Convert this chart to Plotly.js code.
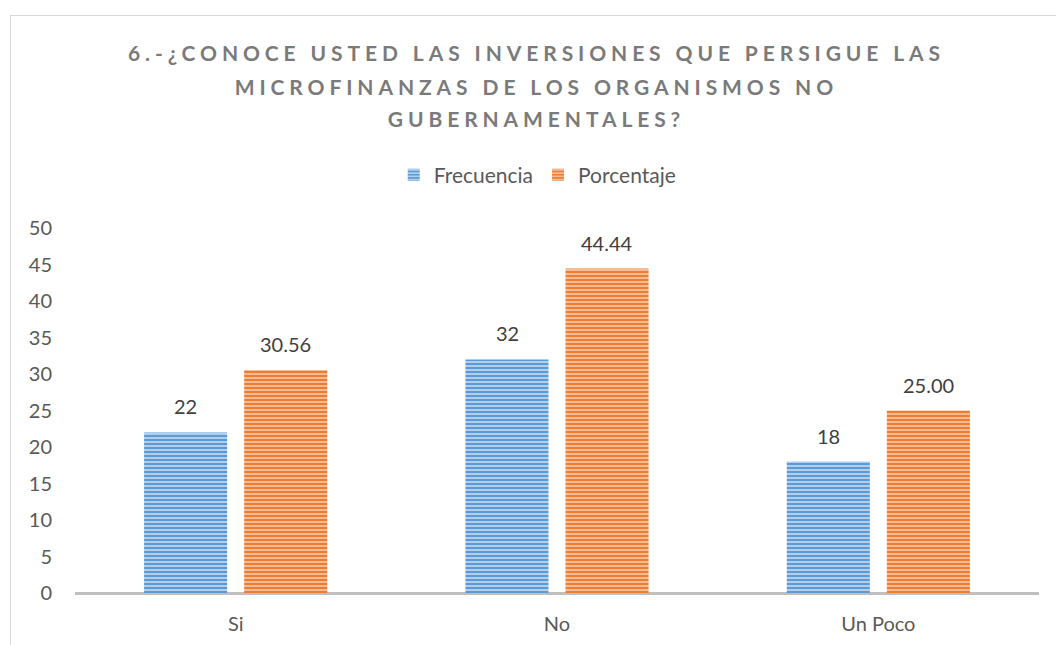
<!DOCTYPE html>
<html>
<head>
<meta charset="utf-8">
<script src="https://cdn.plot.ly/plotly-3.0.1.min.js"></script>
<style>
  body { margin: 0; background: #fff; }
  #chart { position: absolute; left: 0; top: 0; width: 1056px; height: 645px; }
  #frame { position: absolute; left: 10px; top: 15px; width: 1100px; height: 700px; border: 1px solid #d9d9d9; pointer-events: none; }
  .annotation[data-index="0"] text, .annotation[data-index="1"] text, .annotation[data-index="2"] text { letter-spacing: 4.9px; }
</style>
</head>
<body>
<div id="chart"></div>
<div id="frame"></div>
<script>
const titleLines = ["6.-¿CONOCE USTED LAS INVERSIONES QUE PERSIGUE LAS", "MICROFINANZAS DE LOS ORGANISMOS NO", "GUBERNAMENTALES?"];
const categories = ["Si", "No", "Un Poco"];
const frecuencia = [22, 32, 18];
const porcentaje = [30.56, 44.44, 25.00];
const frecuenciaLabels = ["22", "32", "18"];
const porcentajeLabels = ["30.56", "44.44", "25.00"];
const yTicks = [0, 5, 10, 15, 20, 25, 30, 35, 40, 45, 50];

const font = "Lato, 'Open Sans', sans-serif";

const traces = [
  {
    type: "bar", name: "Frecuencia", x: categories, y: frecuencia,
    marker: { color: "#5B9BD5", pattern: { shape: "-", fgcolor: "#C9DCF0", bgcolor: "#5B9BD5", size: 4, solidity: 0.4 } },
    hoverinfo: "skip"
  },
  {
    type: "bar", name: "Porcentaje", x: categories, y: porcentaje,
    marker: { color: "#ED7D31", pattern: { shape: "-", fgcolor: "#F8CBAD", bgcolor: "#ED7D31", size: 4, solidity: 0.4 } },
    hoverinfo: "skip"
  }
];

const titleY = [1.482, 1.389, 1.301];
const annotations = titleLines.map((t, i) => ({
  xref: "paper", yref: "paper", x: 0.479, y: titleY[i],
  text: "<b>" + t + "</b>", showarrow: false, xanchor: "center", yanchor: "middle",
  font: { size: 21, color: "#7a7a7a", family: font }
}));
categories.forEach((c, i) => {
  annotations.push({ x: c, y: frecuencia[i], text: frecuenciaLabels[i], showarrow: false, xshift: -50, yanchor: "bottom", yshift: 12, font: { size: 20, color: "#404040", family: font } });
  annotations.push({ x: c, y: porcentaje[i], text: porcentajeLabels[i], showarrow: false, xshift: 50, yanchor: "bottom", yshift: 12, font: { size: 20, color: "#404040", family: font } });
});

const layout = {
  width: 1056, height: 645,
  margin: { l: 75, r: 17, t: 228, b: 52 },
  paper_bgcolor: "#ffffff", plot_bgcolor: "#ffffff",
  font: { family: font, color: "#595959", size: 20 },
  barmode: "group",
  bargap: 0.377,
  bargroupgap: 0.17,
  showlegend: true,
  legend: {
    orientation: "h", x: 0.48, xanchor: "center", y: 1.145, yanchor: "middle",
    font: { size: 21, color: "#595959", family: font },
    itemwidth: 30, traceorder: "normal"
  },
  xaxis: {
    type: "category",
    showgrid: false, zeroline: false,
    showline: false,
    ticks: "", ticklabelstandoff: 17,
    tickfont: { size: 20, color: "#595959", family: font }
  },
  yaxis: {
    range: [0, 50], tickvals: yTicks, ticktext: yTicks.map(String),
    showgrid: false, zeroline: true, zerolinecolor: "#bfbfbf", zerolinewidth: 3,
    showline: false, ticks: "", ticklabelstandoff: 22,
    tickfont: { size: 20, color: "#595959", family: font }
  },
  annotations: annotations
};

Plotly.newPlot("chart", traces, layout, { staticPlot: true });
</script>
</body>
</html>
